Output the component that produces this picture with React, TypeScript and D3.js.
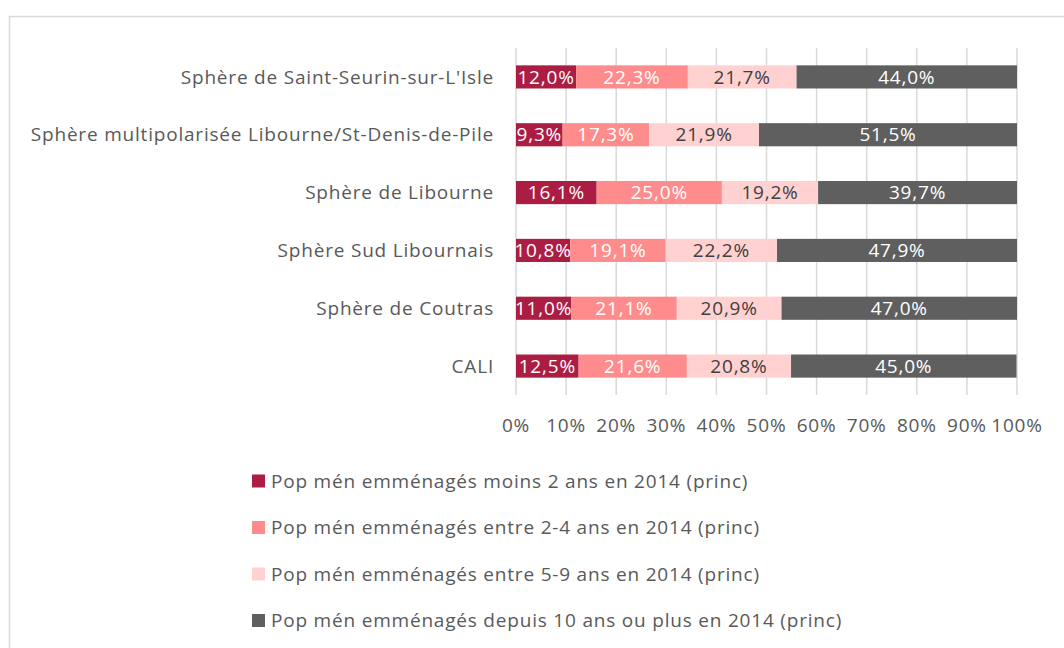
import React, { useEffect, useRef } from 'react';
import * as d3 from 'd3';

const categories = [
  "Sphère de Saint-Seurin-sur-L'Isle",
  'Sphère multipolarisée Libourne/St-Denis-de-Pile',
  'Sphère de Libourne',
  'Sphère Sud Libournais',
  'Sphère de Coutras',
  'CALI',
];

const seriesNames = [
  'Pop mén emménagés moins 2 ans en 2014 (princ)',
  'Pop mén emménagés entre 2-4 ans en 2014 (princ)',
  'Pop mén emménagés entre 5-9 ans en 2014 (princ)',
  'Pop mén emménagés depuis 10 ans ou plus en 2014 (princ)',
];

const lessThan2 = [12.0, 9.3, 16.1, 10.8, 11.0, 12.5];
const between2and4 = [22.3, 17.3, 25.0, 19.1, 21.1, 21.6];
const between5and9 = [21.7, 21.9, 19.2, 22.2, 20.9, 20.8];
const tenOrMore = [44.0, 51.5, 39.7, 47.9, 47.0, 45.0];

const xTicks = [0, 10, 20, 30, 40, 50, 60, 70, 80, 90, 100];

const colors = ['#AB1D43', '#FF8C8C', '#FFD1D1', '#5F5F5F'];
const labelColors = ['#FFFFFF', '#FFFFFF', '#404040', '#FFFFFF'];

const FONT = '"Open Sans", sans-serif';
const FS = 19;
const LS = 0.8;
const TEXT = '#595959';

export default function App() {
  const svgRef = useRef<SVGSVGElement>(null);

  useEffect(() => {
    if (!svgRef.current) return;
    const svg = d3.select(svgRef.current);
    svg.selectAll('*').remove();

    const width = 1064;
    const height = 648;
    const margin = { top: 48, left: 516, right: 47, bottom: 253 };

    // chart frame
    svg.append('rect')
      .attr('x', 9.5).attr('y', 16.5)
      .attr('width', 1100).attr('height', 700)
      .attr('fill', '#fff')
      .attr('stroke', '#D9D9D9')
      .attr('stroke-width', 1.5);

    const x = d3.scaleLinear()
      .domain([0, 100])
      .range([margin.left, width - margin.right]);

    const y = d3.scaleBand()
      .domain(categories)
      .range([margin.top, height - margin.bottom])
      .paddingInner(0.6)
      .paddingOuter(0.3);

    const txt = (sel: any) =>
      sel.attr('font-family', FONT)
        .attr('font-size', FS)
        .attr('letter-spacing', LS);

    // grid
    svg.append('g')
      .selectAll('line')
      .data(xTicks)
      .join('line')
      .attr('x1', (d) => x(d)).attr('x2', (d) => x(d))
      .attr('y1', margin.top).attr('y2', height - margin.bottom)
      .attr('stroke', '#D9D9D9')
      .attr('stroke-width', 1.5);

    const series = [lessThan2, between2and4, between5and9, tenOrMore];
    const rows = categories.map((c, i) => {
      const row: any = { cat: c };
      series.forEach((s, k) => { row['s' + k] = s[i]; });
      return row;
    });
    const stack = d3.stack<any>().keys(['s0', 's1', 's2', 's3'])(rows);

    stack.forEach((layer, k) => {
      const g = svg.append('g');
      g.selectAll('rect')
        .data(layer)
        .join('rect')
        .attr('x', (d) => x(d[0]))
        .attr('y', (d) => y(d.data.cat)!)
        .attr('width', (d) => x(d[1]) - x(d[0]))
        .attr('height', y.bandwidth())
        .attr('fill', colors[k]);
      g.selectAll('text')
        .data(layer)
        .join('text')
        .attr('x', (d) => (x(d[0]) + x(d[1])) / 2)
        .attr('y', (d) => y(d.data.cat)! + y.bandwidth() / 2)
        .attr('dy', '0.35em')
        .attr('text-anchor', 'middle')
        .call(txt)
        .attr('fill', labelColors[k])
        .text((d) => (d[1] - d[0]).toFixed(1).replace('.', ',') + '%');
    });

    // category labels
    svg.append('g')
      .selectAll('text')
      .data(categories)
      .join('text')
      .attr('x', margin.left - 22)
      .attr('y', (d) => y(d)! + y.bandwidth() / 2)
      .attr('dy', '0.35em')
      .attr('text-anchor', 'end')
      .call(txt)
      .attr('fill', TEXT)
      .text((d) => d);

    // x tick labels
    svg.append('g')
      .selectAll('text')
      .data(xTicks)
      .join('text')
      .attr('x', (d) => x(d))
      .attr('y', 425)
      .attr('dy', '0.35em')
      .attr('text-anchor', 'middle')
      .call(txt)
      .attr('fill', TEXT)
      .text((d) => d + '%');

    // legend
    const legend = svg.append('g')
      .selectAll('g')
      .data(seriesNames)
      .join('g')
      .attr('transform', (_, i) => `translate(252,${481 + i * 46.5})`);
    legend.append('rect')
      .attr('x', 0).attr('y', -6.5)
      .attr('width', 13).attr('height', 13)
      .attr('fill', (_, i) => colors[i]);
    legend.append('text')
      .attr('x', 19)
      .attr('dy', '0.35em')
      .call(txt)
      .attr('fill', TEXT)
      .text((d) => d);
  }, []);

  return (
    <svg
      ref={svgRef}
      width={1064}
      height={648}
      style={{ position: 'absolute', left: 0, top: 0, display: 'block', background: '#fff' }}
    />
  );
}
